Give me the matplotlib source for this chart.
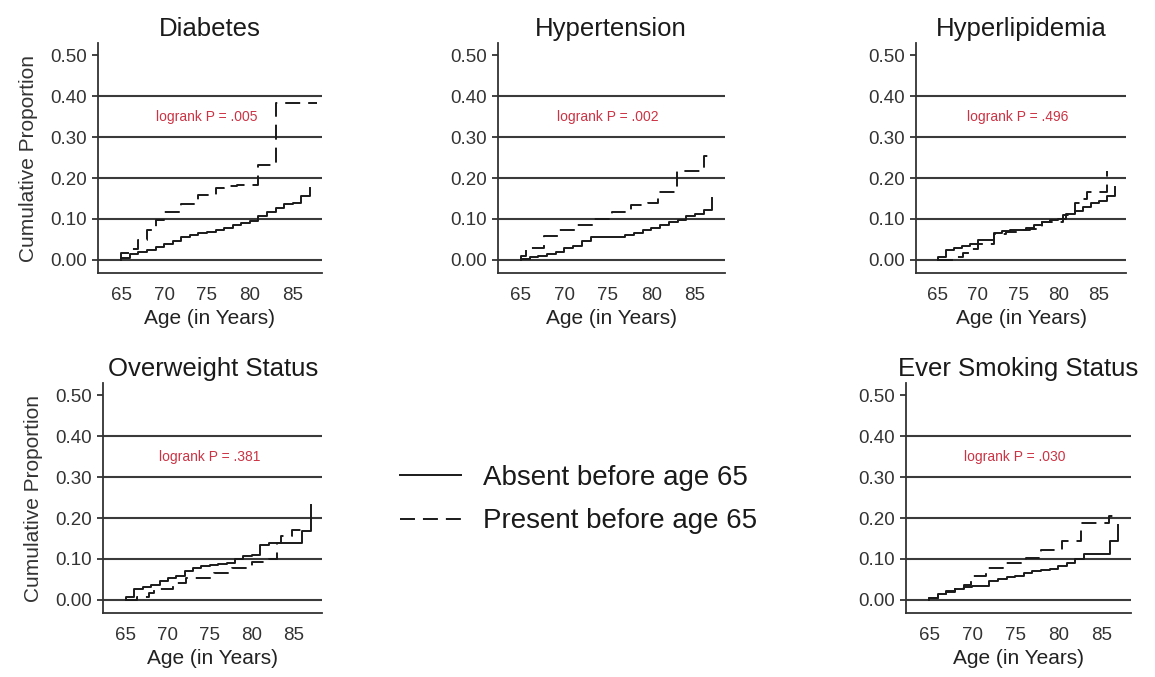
import matplotlib
matplotlib.use("Agg")
import matplotlib.pyplot as plt

plt.rcParams['font.family'] = ['Liberation Sans', 'DejaVu Sans']

# ---------------- data ----------------
titles = ["Diabetes", "Hypertension", "Hyperlipidemia", "Overweight Status", "Ever Smoking Status"]
pvalues = ["logrank P = .005", "logrank P = .002", "logrank P = .496", "logrank P = .381", "logrank P = .030"]
legend_labels = ["Absent before age 65", "Present before age 65"]
ytick_values = [0.0, 0.1, 0.2, 0.3, 0.4, 0.5]
ytick_labels = ["0.00", "0.10", "0.20", "0.30", "0.40", "0.50"]
grid_levels = [0.0, 0.1, 0.2, 0.3, 0.4]
xtick_values = [65, 70, 75, 80, 85]

diab_abs_age = [65, 65, 66, 67, 68, 69, 70, 71, 72, 73, 74, 75, 76, 77, 78, 79, 80, 81, 82, 83, 84, 85, 86, 87]
diab_abs_val = [0, 0.005, 0.014, 0.019, 0.025, 0.032, 0.039, 0.046, 0.056, 0.062, 0.065, 0.068, 0.072, 0.078,
                0.085, 0.090, 0.096, 0.107, 0.117, 0.127, 0.136, 0.140, 0.157, 0.175]
diab_pre_age = [65, 65, 66, 67, 68, 69, 70, 72, 74, 76, 77, 78.5, 81, 83, 87.8]
diab_pre_val = [0, 0.016, 0.027, 0.048, 0.073, 0.097, 0.118, 0.137, 0.159, 0.176, 0.180, 0.183, 0.233, 0.383, 0.383]

hyp_abs_age = [65, 65, 66, 67, 68, 69, 70, 71, 72, 73, 74, 75, 76, 77, 78, 79, 80, 81, 82, 83, 84, 85, 86, 87]
hyp_abs_val = [0, 0.003, 0.006, 0.010, 0.014, 0.020, 0.028, 0.035, 0.047, 0.055, 0.055, 0.055, 0.055, 0.060,
               0.066, 0.072, 0.077, 0.085, 0.092, 0.098, 0.108, 0.111, 0.123, 0.152]
hyp_pre_age = [65, 65, 65.6, 67.6, 69.2, 71.3, 73.4, 75.5, 77.6, 79.6, 80.8, 82.9, 86.0, 86.8]
hyp_pre_val = [0, 0.010, 0.030, 0.058, 0.073, 0.086, 0.099, 0.118, 0.133, 0.140, 0.165, 0.218, 0.254, 0.254]

lip_abs_age = [65, 65, 66, 67, 68, 69, 70, 71, 72, 73, 74, 75, 76, 77, 78, 79, 80, 81, 82, 83, 84, 85, 86, 87]
lip_abs_val = [0, 0.008, 0.025, 0.030, 0.035, 0.040, 0.048, 0.048, 0.065, 0.070, 0.073, 0.073, 0.078, 0.085,
               0.093, 0.097, 0.101, 0.113, 0.120, 0.130, 0.140, 0.143, 0.155, 0.178]
lip_pre_age = [65, 67, 68.2, 69, 70, 72, 73.5, 75.5, 76.5, 78, 80.6, 82, 83, 83.5, 86]
lip_pre_val = [0, 0.008, 0.016, 0.026, 0.040, 0.063, 0.068, 0.072, 0.076, 0.093, 0.110, 0.140, 0.148, 0.167, 0.217]

ovw_abs_age = [65, 65, 66, 67, 68, 69, 70, 71, 72, 73, 74, 75, 76, 77, 78, 79, 80, 81, 82, 86, 87]
ovw_abs_val = [0, 0.008, 0.026, 0.031, 0.037, 0.045, 0.053, 0.058, 0.071, 0.078, 0.082, 0.085, 0.087, 0.090,
               0.100, 0.107, 0.110, 0.133, 0.140, 0.168, 0.232]
ovw_pre_age = [65, 66.3, 67.7, 68.3, 70.6, 72.2, 75.5, 77.6, 80.0, 82.0, 83.0, 83.5, 84.8, 86.5]
ovw_pre_val = [0, 0.008, 0.016, 0.027, 0.041, 0.054, 0.066, 0.077, 0.093, 0.099, 0.140, 0.157, 0.172, 0.172]

smk_abs_age = [65, 65, 66, 67, 68, 69, 70, 72, 73, 74, 75, 76, 77, 78, 79, 80, 81, 82, 83, 86, 87]
smk_abs_val = [0, 0.005, 0.014, 0.020, 0.026, 0.031, 0.035, 0.045, 0.050, 0.055, 0.058, 0.065, 0.070, 0.073,
               0.076, 0.082, 0.090, 0.100, 0.113, 0.143, 0.184]
smk_pre_age = [65, 65, 66, 67, 68, 69, 69.8, 71.6, 73.6, 76.2, 78, 80.4, 82.7, 85.9, 86.8]
smk_pre_val = [0, 0.005, 0.014, 0.021, 0.029, 0.037, 0.059, 0.078, 0.090, 0.102, 0.122, 0.143, 0.188, 0.206, 0.206]

absent = [(diab_abs_age, diab_abs_val), (hyp_abs_age, hyp_abs_val), (lip_abs_age, lip_abs_val),
          (ovw_abs_age, ovw_abs_val), (smk_abs_age, smk_abs_val)]
present = [(diab_pre_age, diab_pre_val), (hyp_pre_age, hyp_pre_val), (lip_pre_age, lip_pre_val),
           (ovw_pre_age, ovw_pre_val), (smk_pre_age, smk_pre_val)]

# ---------------- layout (pixels) ----------------
W, H = 1155, 677
panels_px = [(98, 273, 224), (497.5, 273, 227), (916, 273, 210), (103.3, 613, 219), (906, 613, 224.5)]
ax_h = 230
show_ylabel = [True, False, False, True, False]

line_col = "#1a1a1a"
axis_col = "#333333"
lw_curve = 1.4
dash = (7.7, 4.1)

fig = plt.figure(figsize=(W / 100, H / 100), dpi=100)
fig.patch.set_facecolor("white")

handles = None
for i in range(5):
    left, bottom, width = panels_px[i]
    ax = fig.add_axes([left / W, (H - bottom) / H, width / W, ax_h / H])
    ax.set_xlim(62.3, 88.4)
    ax.set_ylim(-0.032, 0.53)
    for g in grid_levels:
        ax.axhline(g, color="#3a3a3a", lw=1.5, zorder=1)
    a_age, a_val = absent[i]
    p_age, p_val = present[i]
    l1, = ax.plot(a_age, a_val, drawstyle="steps-post", color=line_col, lw=lw_curve, zorder=3)
    l2, = ax.plot(p_age, p_val, drawstyle="steps-post", color=line_col, lw=lw_curve, dashes=dash, zorder=3)
    if handles is None:
        handles = [l1, l2]
    ax.text(75, 0.35, pvalues[i], color="#cc3344", fontsize=10, ha="center", va="center")
    ax.set_title(titles[i], fontsize=18.5, color="#1a1a1a", pad=5)
    ax.set_yticks(ytick_values)
    ax.set_yticklabels(ytick_labels)
    ax.set_xticks(xtick_values)
    ax.tick_params(axis="y", length=4.3, width=1.3, color=axis_col, pad=3.6, labelsize=13.5, labelcolor="#333333")
    ax.tick_params(axis="x", length=0, pad=10, labelsize=13.5, labelcolor="#333333")
    ax.set_xlabel("Age (in Years)", fontsize=15, color="#222222", labelpad=4)
    if show_ylabel[i]:
        ax.set_ylabel("Cumulative Proportion", fontsize=15, color="#333333", labelpad=9)
    for s in ["top", "right"]:
        ax.spines[s].set_visible(False)
    for s in ["left", "bottom"]:
        ax.spines[s].set_color(axis_col)
        ax.spines[s].set_linewidth(1.3)
    ax.set_facecolor("white")

fig.legend(handles, legend_labels, loc="upper left", bbox_to_anchor=(400 / W, (H - 465) / H),
           frameon=False, fontsize=20, handlelength=2.2, handletextpad=0.8, labelspacing=0.62,
           borderpad=0, borderaxespad=0, labelcolor="#1a1a1a")

fig.savefig("out.png", dpi=100, facecolor="white")
